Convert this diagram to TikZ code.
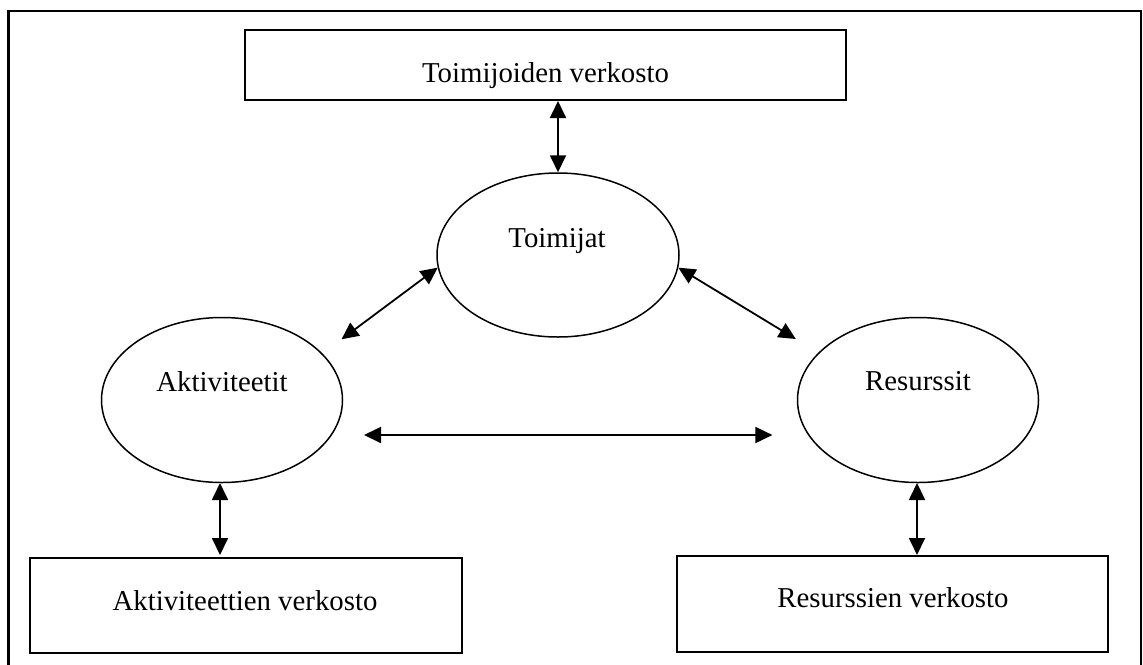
\documentclass[tikz,border=0pt]{standalone}
\usepackage{fontspec}
\setmainfont{Liberation Serif}
\usetikzlibrary{arrows.meta,calc,shapes.geometric}
\tikzset{
  boxnode/.style={draw=black, line width=2pt, rectangle, inner sep=0pt},
  ovalnode/.style={draw=black, line width=1.5pt, ellipse, inner sep=0pt, minimum width=241pt, minimum height=165pt},
  lbl/.style={anchor=base, font=\fontsize{28.8pt}{34pt}\selectfont, inner sep=0pt},
  dblarrow/.style={line width=1.8pt, {Triangle[length=17pt,width=16pt]}-{Triangle[length=17pt,width=16pt]}},
}
\begin{document}
\begin{tikzpicture}[x=1pt,y=-1pt]
\useasboundingbox (0,0) rectangle (1143,664);
% outer frame (bottom edge lies below the picture)
\begin{scope}
\clip (0,0) rectangle (1143,664);
\draw[line width=2.3pt] (8.5,11) rectangle (1141,668);
\end{scope}
% boxes
\node[boxnode, minimum width=601pt, minimum height=70pt] (tbox) at (545.5,65) {};
\node[boxnode, minimum width=431.5pt, minimum height=95pt] (abox) at (245.75,605.5) {};
\node[boxnode, minimum width=431pt, minimum height=96pt] (rbox) at (892.5,604) {};
\node[lbl] (tboxt) at (545.5,82) {Toimijoiden verkosto};
\node[lbl] (aboxt) at (245,610) {Aktiviteettien verkosto};
\node[lbl] (rboxt) at (893,607) {Resurssien verkosto};
% ellipses
\node[ovalnode, minimum width=242pt, minimum height=164pt] (toim) at (558,255) {};
\node[ovalnode] (akt) at (222,400) {};
\node[ovalnode] (res) at (918,400) {};
\node[lbl] (toimt) at (557,247) {Toimijat};
\node[lbl] (aktt) at (222,391) {Aktiviteetit};
\node[lbl] (rest) at (918,390) {Resurssit};
% free arrow ends
\coordinate (dl) at (341.5,339.3);
\coordinate (dr) at (795.8,339);
\coordinate (hl) at (364,435);
\coordinate (hr) at (772.4,435);
\coordinate (vla) at (220,483);
\coordinate (vlb) at (220,555);
\coordinate (vra) at (917,483);
\coordinate (vrb) at (917,555);
% connectors
\draw[dblarrow] (toim.north |- tbox.south) -- (toim.north);
\draw[dblarrow] (toim.186) -- (dl);
\draw[dblarrow] (toim.-6) -- (dr);
\draw[dblarrow] (hl) -- (hr);
\draw[dblarrow] (vla) -- (vlb);
\draw[dblarrow] (vra) -- (vrb);
\end{tikzpicture}
\end{document}
